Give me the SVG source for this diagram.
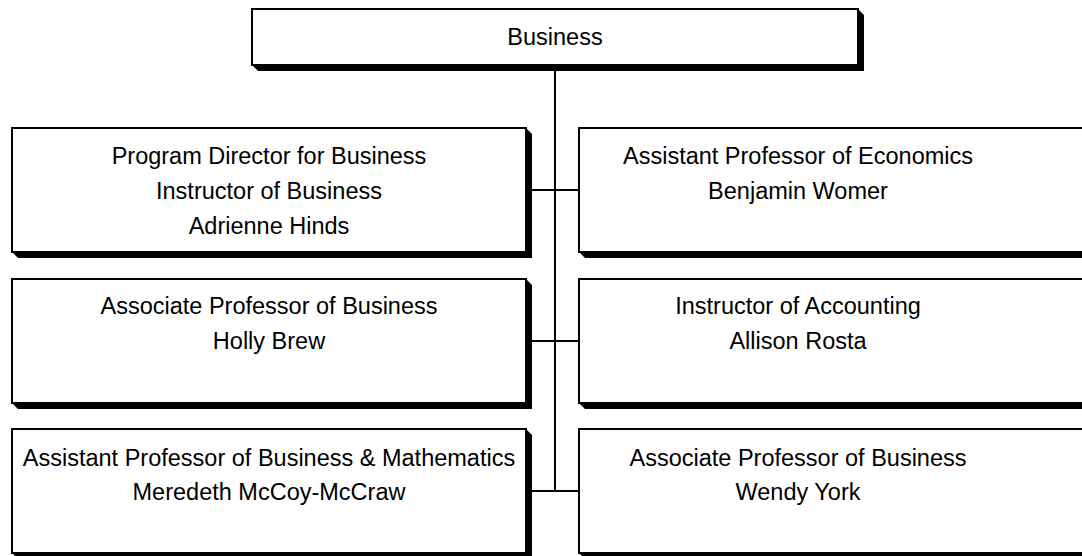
<svg xmlns="http://www.w3.org/2000/svg" width="1082" height="556" viewBox="0 0 1082 556">
<style>
.box{fill:#fff;stroke:#000;stroke-width:2}
.sh{fill:#000}
.t{font-family:"Liberation Sans",Arial,sans-serif;font-size:23.5px;fill:#000;text-anchor:middle}
.c{stroke:#000;stroke-width:2;fill:none}
</style>
<rect width="1082" height="556" fill="#fff"/>
<g id="connectors">
<line class="c" x1="555" y1="65" x2="555" y2="491"/>
<line class="c" x1="526" y1="190" x2="579" y2="190"/>
<line class="c" x1="526" y1="341" x2="579" y2="341"/>
<line class="c" x1="526" y1="491" x2="579" y2="491"/>
</g>
<g id="n0">
<polygon class="sh" points="858,9 864,15 864,71 258,71 252,65 858,65"/>
<rect class="box" x="252" y="9" width="606" height="56"/>
<text class="t" x="555" y="45">Business</text>
</g>
<g id="n1">
<polygon class="sh" points="526,128 532,134 532,258 18,258 12,252 526,252"/>
<rect class="box" x="12" y="128" width="514" height="124"/>
<text class="t" x="269" y="164">Program Director for Business</text>
<text class="t" x="269" y="199">Instructor of Business</text>
<text class="t" x="269" y="234">Adrienne Hinds</text>
</g>
<g id="n2">
<polygon class="sh" points="1093,128 1099,134 1099,258 585,258 579,252 1093,252"/>
<rect class="box" x="579" y="128" width="514" height="124"/>
<text class="t" x="798" y="164">Assistant Professor of Economics</text>
<text class="t" x="798" y="199">Benjamin Womer</text>
</g>
<g id="n3">
<polygon class="sh" points="526,279 532,285 532,409 18,409 12,403 526,403"/>
<rect class="box" x="12" y="279" width="514" height="124"/>
<text class="t" x="269" y="314">Associate Professor of Business</text>
<text class="t" x="269" y="349">Holly Brew</text>
</g>
<g id="n4">
<polygon class="sh" points="1093,279 1099,285 1099,409 585,409 579,403 1093,403"/>
<rect class="box" x="579" y="279" width="514" height="124"/>
<text class="t" x="798" y="314">Instructor of Accounting</text>
<text class="t" x="798" y="349">Allison Rosta</text>
</g>
<g id="n5">
<polygon class="sh" points="526,429 532,435 532,559 18,559 12,553 526,553"/>
<rect class="box" x="12" y="429" width="514" height="124"/>
<text class="t" x="269" y="466">Assistant Professor of Business &amp; Mathematics</text>
<text class="t" x="269" y="500">Meredeth McCoy-McCraw</text>
</g>
<g id="n6">
<polygon class="sh" points="1093,429 1099,435 1099,559 585,559 579,553 1093,553"/>
<rect class="box" x="579" y="429" width="514" height="124"/>
<text class="t" x="798" y="466">Associate Professor of Business</text>
<text class="t" x="798" y="500">Wendy York</text>
</g>
</svg>
